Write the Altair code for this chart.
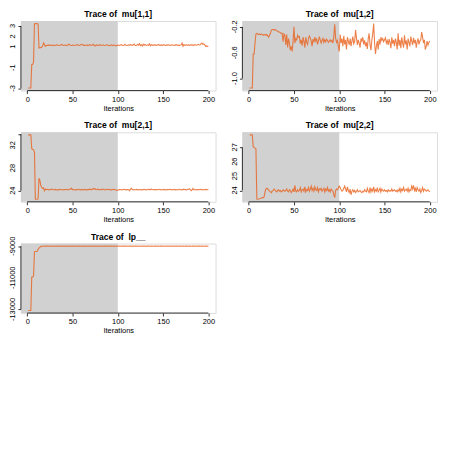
import altair as alt
import pandas as pd

FONT = "Liberation Sans"
ORANGE = "#E8601C"
GREY = "#D1D1D1"
W, H = 196, 70

titles = ["Trace of \u00a0mu[1,1]", "Trace of \u00a0mu[1,2]", "Trace of \u00a0mu[2,1]",
          "Trace of \u00a0mu[2,2]", "Trace of \u00a0lp__"]

x_ticks = [0, 50, 100, 150, 200]

mu11 = [-2.95, -2.95, -2.95, -2.95, -0.7, -0.7, -0.45, 3.2, 3.22, 3.22,
        3.2, 3.18, 0.88, 0.9, 0.92, 0.98, 1.05, 1.38, 1.25, 1.05,
        1.12, 1.15, 1.14, 1.18, 1.13, 1.16, 1.15, 1.12, 1.17, 1.14,
        1.13, 1.16, 1.19, 1.15, 1.12, 1.14, 1.18, 1.22, 1.16, 1.13,
        1.15, 1.17, 1.14, 1.12, 1.2, 1.25, 1.18, 1.14, 1.13, 1.16,
        1.15, 1.12, 1.14, 1.18, 1.21, 1.17, 1.13, 1.15, 1.2, 1.24,
        1.19, 1.14, 1.16, 1.13, 1.15, 1.18, 1.12, 1.14, 1.2, 1.17,
        1.13, 1.16, 1.24, 1.15, 1.08, 1.14, 1.18, 1.15, 1.13, 1.2,
        1.16, 1.13, 1.15, 1.19, 1.14, 1.12, 1.16, 1.21, 1.15, 1.13,
        1.1, 1.14, 1.18, 1.12, 1.15, 1.17, 1.14, 1.09, 1.13, 1.16,
        1.14, 1.12, 1.17, 1.2, 1.15, 1.13, 1.18, 1.24, 1.16, 1.12,
        1.15, 1.19, 1.14, 1.22, 1.17, 1.13, 1.2, 1.26, 1.15, 1.11,
        1.18, 1.23, 1.16, 1.3, 1.12, 1.2, 1.08, 1.25, 1.14, 1.22,
        1.17, 1.13, 1.19, 1.15, 1.28, 1.1, 1.21, 1.16, 1.14, 1.2,
        1.15, 1.18, 1.13, 1.17, 1.22, 1.16, 1.14, 1.19, 1.12, 1.17,
        1.2, 1.15, 1.13, 1.18, 1.16, 1.21, 1.14, 1.12, 1.17, 1.19,
        1.15, 1.13, 1.18, 1.16, 1.2, 1.14, 1.17, 1.12, 1.16, 1.2,
        1.35, 1.05, 1.22, 1.16, 1.14, 1.19, 1.15, 1.18, 1.13, 1.17,
        1.2, 1.15, 1.18, 1.14, 1.21, 1.17, 1.15, 1.19, 1.24, 1.18,
        1.2, 1.3, 1.36, 1.22, 1.28, 1.18, 1.05, 1.08, 1.04, 1.06]

mu12 = [-1.145, -1.145, -1.145, -1.145, -0.62, -0.62, -0.45, -0.31, -0.3, -0.31,
        -0.32, -0.31, -0.32, -0.31, -0.32, -0.33, -0.32, -0.32, -0.33, -0.32,
        -0.34, -0.36, -0.33, -0.3, -0.25, -0.24, -0.24, -0.25, -0.24, -0.25,
        -0.26, -0.27, -0.28, -0.28, -0.29, -0.3, -0.3, -0.43, -0.31, -0.33,
        -0.48, -0.32, -0.52, -0.38, -0.45, -0.56, -0.5, -0.58, -0.42, -0.2,
        -0.45, -0.38, -0.4, -0.33, -0.36, -0.35, -0.46, -0.4, -0.49, -0.36,
        -0.42, -0.52, -0.36, -0.44, -0.47, -0.38, -0.34, -0.37, -0.42, -0.5,
        -0.39, -0.44, -0.36, -0.42, -0.38, -0.47, -0.42, -0.35, -0.4, -0.45,
        -0.41, -0.38, -0.44, -0.4, -0.43, -0.39, -0.41, -0.44, -0.42, -0.4,
        -0.43, -0.41, -0.45, -0.35, -0.16, -0.38, -0.44, -0.41, -0.5, -0.58,
        -0.32, -0.45, -0.38, -0.5, -0.34, -0.47, -0.4, -0.55, -0.36, -0.42,
        -0.48, -0.38, -0.5, -0.42, -0.35, -0.46, -0.43, -0.25, -0.37, -0.48,
        -0.4, -0.45, -0.52, -0.38, -0.42, -0.36, -0.47, -0.41, -0.5, -0.44,
        -0.54, -0.38, -0.3, -0.48, -0.56, -0.4, -0.3, -0.15, -0.45, -0.62,
        -0.5, -0.42, -0.55, -0.39, -0.47, -0.36, -0.41, -0.38, -0.43, -0.4,
        -0.37, -0.45, -0.41, -0.48, -0.39, -0.44, -0.53, -0.36, -0.46, -0.4,
        -0.5, -0.38, -0.44, -0.55, -0.3, -0.49, -0.4, -0.53, -0.36, -0.45,
        -0.52, -0.33, -0.47, -0.41, -0.55, -0.38, -0.44, -0.5, -0.35, -0.42,
        -0.48, -0.37, -0.45, -0.4, -0.52, -0.43, -0.38, -0.47, -0.42, -0.4,
        -0.28, -0.36, -0.45, -0.4, -0.55, -0.5, -0.42, -0.48, -0.44, -0.42]

mu21 = [33.85, 33.85, 33.85, 33.85, 31.4, 31.3, 31.2, 30.8, 22.5, 22.5,
        22.5, 22.55, 26.2, 25.8, 24.9, 24.6, 24.4, 24.5, 24.0, 24.3,
        24.2, 24.25, 24.18, 24.22, 24.15, 24.2, 24.28, 24.22, 24.17, 24.2,
        24.24, 24.18, 24.1, 24.2, 24.15, 24.22, 24.25, 24.19, 24.14, 24.2,
        24.22, 24.17, 24.25, 24.2, 24.15, 24.21, 24.3, 24.24, 24.45, 24.2,
        24.15, 24.22, 24.18, 24.12, 24.2, 24.25, 24.18, 24.22, 24.15, 24.2,
        24.22, 24.16, 24.25, 24.2, 24.1, 24.18, 24.24, 24.2, 24.28, 24.22,
        24.16, 24.3, 24.4, 24.25, 24.35, 24.18, 24.22, 24.28, 24.2, 24.15,
        24.2, 24.24, 24.18, 24.3, 24.22, 24.15, 24.2, 24.26, 24.18, 24.22,
        24.24, 24.18, 24.12, 24.2, 24.25, 24.18, 24.22, 24.15, 24.05, 24.1,
        24.15, 24.2, 24.18, 24.22, 24.16, 24.2, 24.25, 24.18, 24.15, 24.2,
        24.22, 24.18, 24.0, 24.25, 24.45, 24.2, 24.15, 24.22, 24.18, 24.2,
        24.24, 24.18, 24.2, 24.15, 24.22, 24.18, 24.12, 24.2, 24.25, 24.18,
        24.15, 24.22, 24.18, 24.25, 24.2, 24.15, 24.3, 24.2, 24.18, 24.22,
        24.2, 24.15, 24.22, 24.18, 24.25, 24.2, 24.16, 24.22, 24.18, 24.2,
        24.24, 24.18, 24.15, 24.22, 24.2, 24.18, 24.25, 24.2, 24.15, 24.22,
        24.18, 24.2, 24.24, 24.15, 24.22, 24.18, 24.2, 24.25, 24.18, 24.15,
        24.22, 24.2, 24.28, 24.18, 24.22, 24.15, 24.2, 24.24, 24.35, 24.18,
        24.0, 24.15, 24.4, 24.2, 24.22, 24.18, 24.15, 24.22, 24.2, 24.18,
        24.25, 24.2, 24.15, 24.22, 24.18, 24.2, 24.24, 24.18, 24.2, 24.25]

mu22 = [27.87, 27.87, 27.87, 27.87, 27.05, 27.0, 26.95, 26.9, 23.4, 23.39,
        23.4, 23.42, 23.45, 23.48, 23.5, 23.5, 23.55, 23.9, 24.1, 24.15,
        24.1, 24.05, 23.95, 23.9, 23.85, 23.95, 24.0, 24.1, 24.05, 23.95,
        23.9, 24.0, 24.05, 23.95, 24.0, 23.9, 23.95, 24.05, 24.0, 23.95,
        24.0, 24.1, 23.95, 23.9, 24.05, 24.0, 23.85, 23.95, 24.1, 23.9,
        24.35, 23.95, 23.9, 24.05, 23.95, 24.0, 24.2, 23.9, 24.05, 24.1,
        23.95, 24.25, 23.9, 24.05, 24.0, 24.2, 23.95, 24.1, 24.3, 24.0,
        24.15, 23.95, 24.25, 24.05, 24.0, 24.2, 23.9, 24.1, 24.05, 24.15,
        23.95, 24.05, 24.15, 23.9, 24.1, 24.0, 24.2, 23.95, 24.05, 23.9,
        24.1, 24.0, 23.95, 23.7, 23.5, 24.0, 24.1, 24.05, 24.15, 24.3,
        24.2, 24.05, 23.95, 24.0, 24.15, 24.3, 24.1, 23.9, 24.25, 24.0,
        23.85, 24.1, 23.7, 23.95, 24.05, 23.9, 24.0, 23.85, 23.95, 24.05,
        23.9, 23.95, 24.0, 23.9, 23.85, 23.95, 23.9, 24.05, 23.95, 23.9,
        24.15, 23.95, 23.85, 24.2, 23.9, 24.1, 23.95, 24.25, 23.9, 24.05,
        23.95, 24.2, 23.9, 24.0, 24.15, 23.9, 24.1, 24.0, 23.95, 24.05,
        23.95, 24.0, 23.9, 24.05, 23.95, 24.0, 23.95, 24.1, 23.95, 24.0,
        24.05, 23.95, 24.0, 23.9, 24.05, 23.95, 24.15, 23.9, 24.1, 24.0,
        24.2, 23.95, 24.05, 24.1, 23.95, 24.15, 23.9, 24.05, 24.0, 24.3,
        24.1, 24.35, 24.0, 24.15, 23.9, 24.2, 24.05, 23.95, 24.1, 23.85,
        24.0, 24.2, 23.95, 24.1, 24.05, 23.95, 24.0, 24.05, 23.95, 23.9]

lp = [-13060, -13060, -13060, -13060, -10950, -10950, -10880, -9350, -9340, -9340,
      -9330, -9200, -9120, -9060, -9030, -9015, -9008,
      -9004, -9001, -8999, -9003, -9000, -8998, -9002, -9001, -8997, -9003,
      -9000, -9002, -8999, -9001, -9004, -8998, -9000, -9002, -8999, -9001,
      -9003, -8998, -9000, -9001, -9002, -8997, -9000, -9003, -8999, -9001,
      -9000, -9002, -8998, -9001, -9003, -9000, -8999, -9002, -9001, -8998,
      -9000, -9003, -9001, -8999, -9002, -9000, -8998, -9001, -9003, -9000,
      -8999, -9002, -9001, -8998, -9000, -9003, -9001, -8999, -9002, -9000,
      -8998, -9001, -9003, -9000, -8999, -9002, -9001, -8998, -9000, -9003,
      -9001, -8999, -9002, -9000, -8998, -9001, -9003, -9000, -8999, -9002,
      -9001, -8998, -9000, -9003, -9001, -8999, -9002, -9000, -8998, -9001,
      -9003, -9000, -8999, -9002, -9001, -8998, -9000, -9003, -9001, -8999,
      -9002, -9000, -8998, -9001, -9003, -9000, -8999, -9002, -9001, -8998,
      -9000, -9003, -9001, -8999, -9002, -9000, -8998, -9001, -9003, -9000,
      -8999, -9002, -9001, -8998, -9000, -9003, -9001, -8999, -9002, -9000,
      -8998, -9001, -9003, -9000, -8999, -9002, -9001, -8998, -9000, -9003,
      -9001, -8999, -9002, -9000, -8998, -9001, -9003, -9000, -8999, -9002,
      -9001, -8998, -9000, -9003, -9001, -8999, -9002, -9000, -8998, -9001,
      -9003, -9000, -8999, -9002, -9001, -8998, -9000, -9003, -9001, -8999,
      -9002, -9000, -8998, -9001, -9003, -9000, -8999, -9002, -9001, -8998,
      -9000, -9003, -9001]

series = [mu11, mu12, mu21, mu22, lp]

y_ticks = [
    [-3, -2, -1, 0, 1, 2, 3],
    [-1.0, -0.8, -0.6, -0.4, -0.2],
    [24, 26, 28, 30, 32, 34],
    [24, 25, 26, 27],
    [-13000, -12000, -11000, -10000, -9000],
]
y_label_values = [
    [-3, -1, 1, 2, 3],
    [-1.0, -0.6, -0.2],
    [24, 28, 32],
    [24, 25, 26, 27],
    [-13000, -11000, -9000],
]
y_label_texts = [
    ["-3", "-1", "1", "2", "3"],
    ["-1.0", "-0.6", "-0.2"],
    ["24", "28", "32"],
    ["24", "25", "26", "27"],
    ["-13000", "-11000", "-9000"],
]

XLO, XHI = 1 - 0.04 * 199, 200 + 0.04 * 199
one = pd.DataFrame({"k": [0]})


def panel(title, vals, ticks, lab_vals, lab_texts):
    df = pd.DataFrame({"iter": list(range(1, len(vals) + 1)), "value": vals})
    labdf = pd.DataFrame({"value": lab_vals, "text": lab_texts})
    lo, hi = min(vals), max(vals)
    r = hi - lo
    ydom = [lo - 0.04 * r, hi + 0.04 * r]
    xscale = alt.Scale(domain=[XLO, XHI], nice=False, zero=False)
    yscale = alt.Scale(domain=ydom, nice=False, zero=False)
    xaxis = alt.Axis(values=x_ticks, title="Iterations", domain=False, grid=False,
                     tickSize=3, tickColor="black", tickWidth=0.8,
                     labelFontSize=7.5, labelColor="black", labelFont=FONT,
                     labelPadding=1.5, labelOverlap=False,
                     titleFontSize=7.5, titleFontWeight="normal",
                     titleColor="black", titleFont=FONT, titlePadding=2)
    yaxis = alt.Axis(values=ticks, title=None, domain=False, grid=False,
                     tickSize=3, tickColor="black", tickWidth=0.8, labels=False)
    shade = alt.Chart(one).mark_rect(color=GREY).encode(
        x=alt.datum(XLO), x2=alt.datum(100), y=alt.value(0), y2=alt.value(H))
    line = alt.Chart(df).mark_line(color=ORANGE, strokeWidth=1.1, opacity=0.8).encode(
        x=alt.X("iter:Q", scale=xscale, axis=xaxis),
        y=alt.Y("value:Q", scale=yscale, axis=yaxis))
    ylabels = alt.Chart(labdf).mark_text(
        angle=270, align="center", baseline="bottom", fontSize=7.5, font=FONT,
        color="black").encode(
        x=alt.value(-3.5),
        y=alt.Y("value:Q", scale=yscale, axis=yaxis),
        text="text:N")
    ttl = alt.Chart(one).mark_text(
        text=title, fontSize=8.6, fontWeight="bold", font=FONT, color="black",
        align="center", baseline="alphabetic").encode(
        x=alt.value(W / 2), y=alt.value(-4))
    yrule = alt.Chart(one).mark_rule(color="black", strokeWidth=0.8).encode(
        x=alt.value(0), y=alt.datum(ticks[0]), y2=alt.datum(ticks[-1]))
    xrule = alt.Chart(one).mark_rule(color="black", strokeWidth=0.8).encode(
        x=alt.datum(0), x2=alt.datum(200), y=alt.value(H))
    return alt.layer(shade, line, ylabels, yrule, xrule, ttl).properties(
        width=W, height=H)


panels = [panel(t, s, tk, lv, lt) for t, s, tk, lv, lt in
          zip(titles, series, y_ticks, y_label_values, y_label_texts)]

chart = alt.concat(*panels, columns=2, spacing={"row": 42, "column": 27}, bounds="flush").properties(
    padding={"left": 0, "top": 0, "right": 4, "bottom": 4}
).configure_view(strokeWidth=0).configure(background="white", font=FONT)

chart.save("out.html", embed_options={"renderer": "svg", "actions": False})
